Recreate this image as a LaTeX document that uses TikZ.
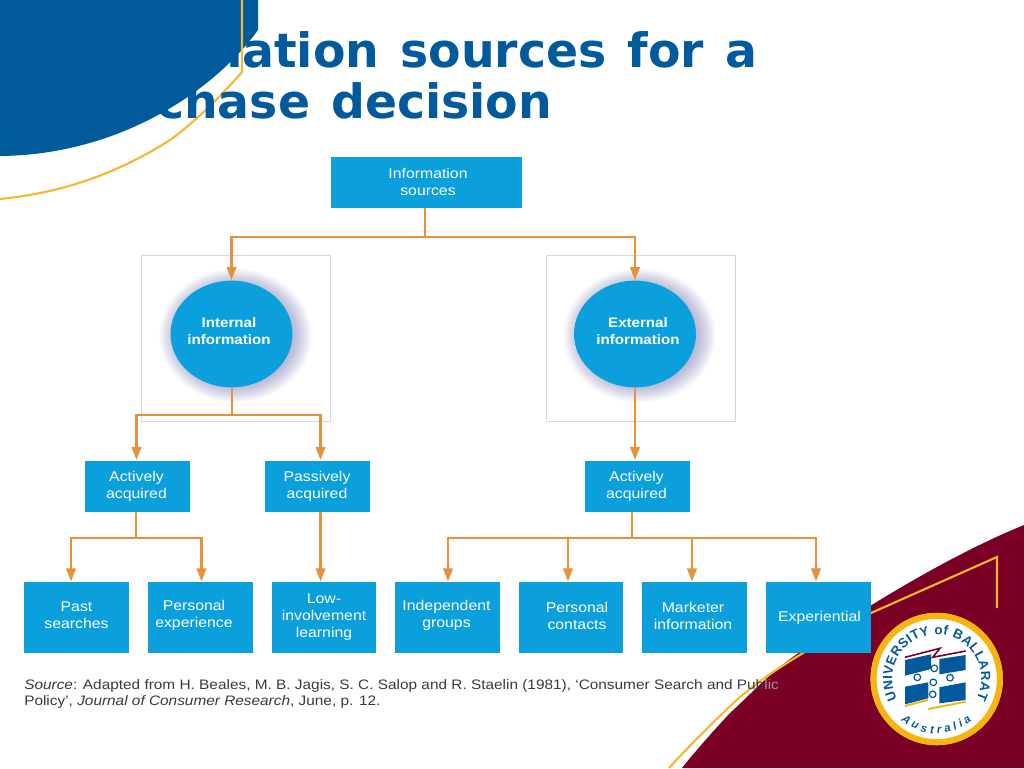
\documentclass[tikz,border=0pt]{standalone}
\usepackage{fontspec}
\setmainfont{Liberation Sans}
\newfontfamily\titlefont[WordSpace=1.28]{DejaVu Sans}
\newfontfamily\boxfont[FakeStretch=1.12]{Liberation Sans}
\newfontfamily\ovalfont[FakeStretch=1.1]{Liberation Sans}
\usetikzlibrary{arrows.meta,decorations.text,shapes.geometric}
\definecolor{navy}{HTML}{005A9C}
\definecolor{sky}{HTML}{0B9FDB}
\definecolor{wire}{HTML}{E6923C}
\definecolor{gold}{HTML}{F5B82E}
\definecolor{ringgold}{HTML}{F6B40E}
\definecolor{maroon}{HTML}{7A0026}
\definecolor{frameg}{HTML}{D6D8DE}
\definecolor{srcg}{HTML}{3A3A3C}
\definecolor{fadeg}{HTML}{A88F9C}
\definecolor{shadowc}{HTML}{4A4FA0}
\tikzset{
 x=0.75pt,y=-0.75pt,
 lab/.style={inner sep=0pt,text=white,align=center,font=\boxfont\fontsize{10.6}{12.75}\selectfont},
 ovallab/.style={inner sep=0pt,text=white,align=center,font=\ovalfont\bfseries\fontsize{10.3}{12.75}\selectfont},
 srclab/.style={anchor=base west,inner sep=0pt,text=srcg,font=\boxfont\fontsize{10.3}{12}\selectfont},
 titlelab/.style={anchor=base west,inner sep=0pt,text=navy,font=\titlefont\bfseries\fontsize{35.5}{39}\selectfont},
 bxs/.style={fill=sky,draw=none,inner sep=0pt},
 topbox/.style={bxs,minimum width=143.25pt,minimum height=38.25pt},
 small/.style={bxs,minimum width=78.75pt,minimum height=38.25pt},
 leaf/.style={bxs,minimum width=78.5pt,minimum height=53.25pt},
 oval/.style={ellipse,fill=sky,inner sep=0pt,minimum width=91.5pt,minimum height=80pt},
 framebox/.style={draw=frameg,line width=0.6pt},
 wirel/.style={draw=wire,line width=2pt},
 arr/.style={wirel,-{Triangle[length=10pt,width=7pt]}},
 goldl/.style={draw=gold,line width=1.6pt},
}
\begin{document}
\begin{tikzpicture}
\useasboundingbox (0,0) rectangle (1024,768);
\fill[white] (0,0) rectangle (1024,768);
% decorative corners
\fill[maroon] (682,768) .. controls (700,745) and (730,713) .. (730,713) .. controls (750,695) and (770,672) .. (800,652) .. controls (860,610) and (950,555) .. (1024,525) -- (1024,768) -- cycle;
\fill[navy] (0,0) -- (258,0) -- (258,30) .. controls (215,90) and (120,155) .. (0,156) -- cycle;
\draw[goldl] (669,768) .. controls (690,745) and (715,720) .. (740,697) .. controls (760,680) and (780,667) .. (803,653) -- (871,613) -- (997,557) -- (997,608);
\draw[goldl] (0,199) .. controls (60,193) and (115,175) .. (170,140) .. controls (195,122) and (222,95) .. (242,72) -- (242,0);
\node[titlelab] (t1) at (65,67.5) {Information sources for a};
\node[titlelab] (t2) at (65,118.5) {purchase decision};
% frames
\draw[framebox] (141,255) rectangle (330,421);
\draw[framebox] (546,255) rectangle (735,421);
% shadows
\foreach \r in {1.26,1.24,...,0.98}{
 \fill[shadowc,opacity=0.028] (235.5,335.5) ellipse ({60.5*\r} and {53*\r});
 \fill[shadowc,opacity=0.028] (639.5,335.5) ellipse ({60.5*\r} and {53*\r});
}
% nodes
\node[topbox] (src) at (426.5,182.5) {};
\node[lab] (src-t) at (428,181.5) {Information\\sources};
\node[oval] (int) at (231.5,334) {};
\node[ovallab] (int-t) at (229,331.5) {Internal\\information};
\node[oval] (ext) at (635,334) {};
\node[ovallab] (ext-t) at (638,331.5) {External\\information};
\node[small] (aa1) at (137.5,486) {};
\node[lab] (aa1-t) at (136.5,486.5) {Actively\\acquired};
\node[small] (pa) at (317.5,486) {};
\node[lab] (pa-t) at (317,486.5) {Passively\\acquired};
\node[small] (aa2) at (637.5,486) {};
\node[lab] (aa2-t) at (636.5,486.5) {Actively\\acquired};
\node[leaf] (l1) at (76.5,617.5) {};
\node[lab] (l1-t) at (76.5,615.5) {Past\\searches};
\node[leaf] (l2) at (200.5,617.5) {};
\node[lab] (l2-t) at (194,615.5) {Personal\\experience};
\node[leaf] (l3) at (324,617.5) {};
\node[lab] (l3-t) at (324,617) {Low-\\involvement\\learning};
\node[leaf] (l4) at (447.5,617.5) {};
\node[lab] (l4-t) at (446.5,615.5) {Independent\\groups};
\node[leaf] (l5) at (571,617.5) {};
\node[lab] (l5-t) at (577,615.5) {Personal\\contacts};
\node[leaf] (l6) at (694.5,617.5) {};
\node[lab] (l6-t) at (693,615.5) {Marketer\\information};
\node[leaf] (l7) at (818.5,617.5) {};
\node[lab] (l7-t) at (819.5,618) {Experiential};
% connectors
\coordinate (hub0) at (425,237);
\coordinate (hub1) at (232,415);
\coordinate (hub2) at (136,538);
\coordinate (hub3) at (632,538);
\draw[wirel] (hub0 |- src.south) -- (hub0);
\draw[arr] (hub0) -| (int.north);
\draw[arr] (hub0) -| (ext.north);
\draw[wirel] (hub1 |- int.south) -- (hub1);
\draw[arr] (hub1) -| ([xshift=-0.75pt]aa1.north);
\draw[arr] (hub1) -| ([xshift=2.25pt]pa.north);
\draw[arr] (ext.south) -- (ext.south |- aa2.north);
\draw[wirel] (hub2 |- aa1.south) -- (hub2);
\draw[arr] (hub2) -| ([xshift=-4.1pt]l1.north);
\draw[arr] (hub2) -| ([xshift=0.75pt]l2.north);
\draw[arr] ([xshift=2.25pt]pa.south) -- ([xshift=-2.6pt]l3.north);
\draw[wirel] (hub3 |- aa2.south) -- (hub3);
\draw[arr] (hub3) -| ([xshift=0.4pt]l4.north);
\draw[arr] ([xshift=-2.25pt]l5.north |- hub3) -- ([xshift=-2.25pt]l5.north);
\draw[arr] ([xshift=-1.9pt]l6.north |- hub3) -- ([xshift=-1.9pt]l6.north);
\draw[arr] (hub3) -| ([xshift=-1.9pt]l7.north);
% source text
\node[srclab] (s1) at (24,689) {\textit{Source}: Adapted from H. Beales, M. B. Jagis, S. C. Salop and R. Staelin (1981), ‘Consumer Search and Pub\textcolor{fadeg}{lic}};
\node[srclab] (s2) at (24,705) {Policy’, \textit{Journal of Consumer Research}, June, p. 12.};
% logo
\fill[white] (936.7,679) circle (66);
\draw[ringgold,line width=4.6pt] (936.7,679) circle (63.2);
\path[postaction={decorate,decoration={text along path,text align={fit to path},text={|\fontsize{10}{11}\selectfont\bfseries\color{navy}|UNIVERSITY of BALLARAT}}}] (936.7,679) ++(153:44.5) arc[start angle=153,end angle=387,radius=44.5];
\path[postaction={decorate,decoration={text along path,text align={fit to path},text={|\fontsize{8.5}{9}\selectfont\bfseries\itshape\color{navy}|Australia}}}] (936.7,679) ++(131:54.5) arc[start angle=131,end angle=50,radius=54.5];
\fill[navy] (905,660) -- (931,654.3) -- (931,669) -- (905,675.7) -- cycle;
\fill[navy] (939.3,659) -- (965.7,655) -- (965.7,670) -- (939.3,674.3) -- cycle;
\fill[navy] (905,686.7) -- (928.3,682.3) -- (928.3,698.3) -- (905,704.3) -- cycle;
\fill[navy] (939.3,687.3) -- (965.7,682.3) -- (965.7,700) -- (939.3,703.3) -- cycle;
\draw[maroon,line width=1.2pt] (905,657.3) -- (940,648.3) -- (932.7,657.3) -- (965.7,651);
\draw[ringgold,line width=1.4pt] (905,706) -- (928,700);
\draw[ringgold,line width=1.4pt] (928,709) -- (965.7,701.7);
\foreach \p in {(934.3,668.3),(917.3,677.3),(933.3,682.3),(950,677.7),(932.7,694.3)}{\draw[navy,line width=0.9pt] \p circle (3.3);}
\end{tikzpicture}
\end{document}
